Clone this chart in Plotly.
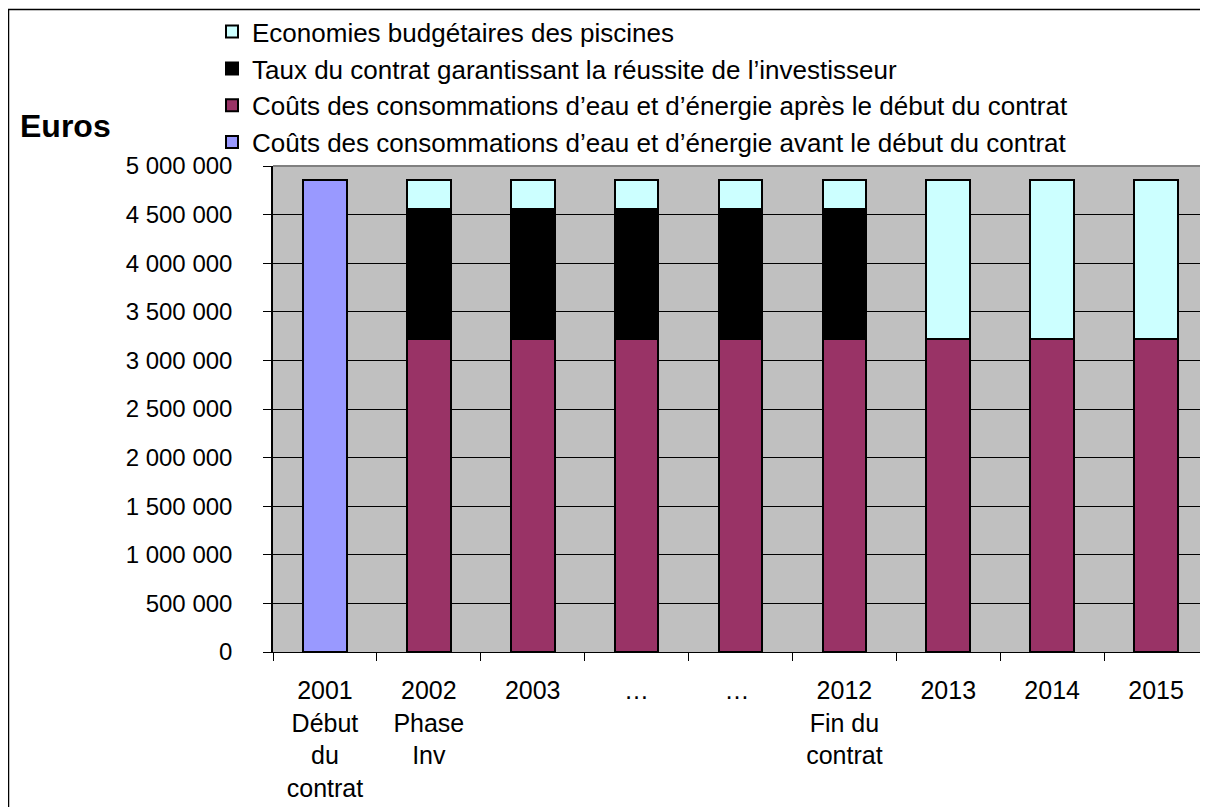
import plotly.graph_objects as go

categories = ["2001<br>Début<br>du<br>contrat", "2002<br>Phase<br>Inv", "2003", "…", "… ",
              "2012<br>Fin du<br>contrat", "2013", "2014", "2015"]
avant = [4860000, None, None, None, None, None, None, None, None]
apres = [None, 3220000, 3220000, 3220000, 3220000, 3220000, 3220000, 3220000, 3220000]
taux = [None, 1335000, 1335000, 1335000, 1335000, 1335000, None, None, None]
economies = [None, 305000, 305000, 305000, 305000, 305000, 1640000, 1640000, 1640000]

names = {
    "avant": "Coûts des consommations d’eau et d’énergie avant le début du contrat",
    "apres": "Coûts des consommations d’eau et d’énergie après le début du contrat",
    "taux": "Taux du contrat garantissant la réussite de l’investisseur",
    "eco": "Economies budgétaires des piscines",
}
yticks = [0, 500000, 1000000, 1500000, 2000000, 2500000, 3000000, 3500000, 4000000, 4500000, 5000000]
yticktext = ["0", "500 000", "1 000 000", "1 500 000", "2 000 000", "2 500 000", "3 000 000",
             "3 500 000", "4 000 000", "4 500 000", "5 000 000"]

# page body has an 8px margin; work in window pixel coordinates
OFF = 8
W, H = 1200, 799
L = 273 - OFF
T = 166 - OFF
B = H - (652 - OFF)
R = 0
PW, PH = W - L - R, H - T - B

def px(xwin):
    return (xwin - OFF - L) / PW

def py(ywin):
    return (H - B - (ywin - OFF)) / PH

font = "Liberation Sans, Arial, sans-serif"
line = dict(color="black", width=2)

fig = go.Figure()
fig.add_trace(go.Bar(x=categories, y=avant, name=names["avant"], marker=dict(color="#9999FF", line=line)))
fig.add_trace(go.Bar(x=categories, y=apres, name=names["apres"], marker=dict(color="#993366", line=line)))
fig.add_trace(go.Bar(x=categories, y=taux, name=names["taux"], marker=dict(color="#000000", line=line)))
fig.add_trace(go.Bar(x=categories, y=economies, name=names["eco"], marker=dict(color="#CCFFFF", line=line)))

fig.update_layout(
    width=W, height=H,
    margin=dict(l=L, r=R, t=T, b=B, pad=0),
    barmode="stack", bargap=0.58,
    paper_bgcolor="white", plot_bgcolor="#C0C0C0",
    font=dict(family=font, color="black", size=24),
    legend=dict(traceorder="reversed", x=px(212), xanchor="left", y=py(8.2), yanchor="top",
                font=dict(size=26, family=font), bgcolor="rgba(0,0,0,0)"),
    xaxis=dict(type="category", showgrid=False, showline=True, linecolor="black", linewidth=1,
               ticks="outside", tickson="boundaries", ticklen=8, tickcolor="black",
               tickfont=dict(size=25), ticklabelstandoff=16, range=[-0.5, 8.5]),
    yaxis=dict(range=[0, 5000000], tickvals=yticks, ticktext=yticktext, showgrid=True,
               gridcolor="black", gridwidth=1, showline=True, linecolor="black", linewidth=1.5,
               ticks="outside", ticklen=8, tickcolor="black", tickfont=dict(size=24),
               ticklabelstandoff=26, zeroline=False),
    shapes=[
        dict(type="line", xref="paper", yref="paper", x0=0, x1=1.01, y0=1, y1=1,
             line=dict(color="#808080", width=2)),
        dict(type="rect", xref="paper", yref="paper", x0=px(8.5), x1=px(1230), y0=py(9.5), y1=py(830),
             line=dict(color="black", width=1.5), fillcolor="rgba(0,0,0,0)", layer="below"),
    ],
    annotations=[
        dict(text="<b>Euros</b>", xref="paper", yref="paper", x=px(65), y=py(126),
             xanchor="center", yanchor="middle", showarrow=False, font=dict(size=32, family=font)),
    ],
)

fig.write_html("out.html")
